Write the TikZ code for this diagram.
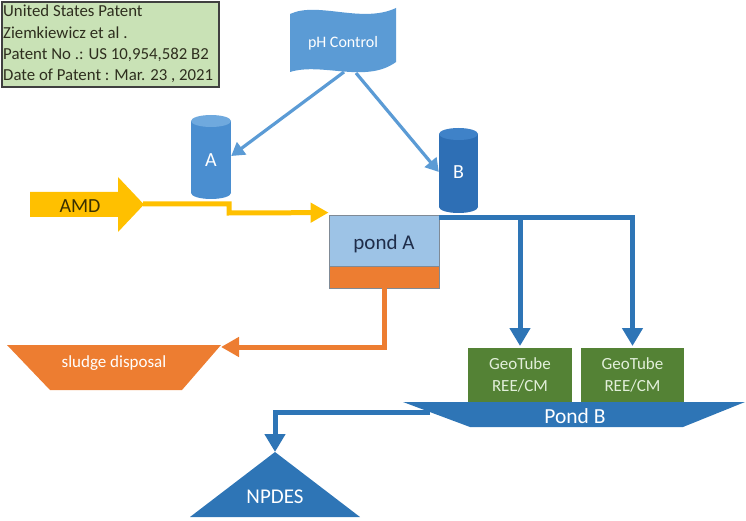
\documentclass[tikz,border=0pt]{standalone}
\usepackage{fontspec}
\setmainfont{Carlito}
\usetikzlibrary{arrows.meta,calc}
\definecolor{midblue}{HTML}{5B9BD5}
\definecolor{cylAbody}{HTML}{4A8ED0}
\definecolor{cylAtop}{HTML}{6FA9DE}
\definecolor{cylBbody}{HTML}{2E6FB5}
\definecolor{cylBtop}{HTML}{3F82C8}
\definecolor{darkblue}{HTML}{2E75B6}
\definecolor{lightblue}{HTML}{9DC3E6}
\definecolor{amdyellow}{HTML}{FFC000}
\definecolor{amdtext}{HTML}{3A3000}
\definecolor{sludgeorange}{HTML}{ED7D31}
\definecolor{geogreen}{HTML}{548235}
\definecolor{patentgreen}{HTML}{C9E2B6}
\definecolor{patenttext}{HTML}{2E2E1E}
\definecolor{geotext}{HTML}{E2EFDA}
\definecolor{pondtext}{HTML}{1F2D4A}
\definecolor{framegray}{HTML}{404040}
\definecolor{pondedge}{HTML}{7F8A96}
\begin{document}
\begin{tikzpicture}[x=1pt,y=-1pt,
  lbl/.style={inner sep=0pt},
  phline/.style={draw=midblue, line width=3.2pt, -{Triangle[length=13pt,width=15pt]}},
  yline/.style={draw=amdyellow, line width=5pt, -{Triangle[length=18pt,width=19pt]}},
  bline/.style={draw=darkblue, line width=5pt, -{Triangle[length=18pt,width=20pt]}},
  oline/.style={draw=sludgeorange, line width=5pt, -{Triangle[length=18pt,width=19pt]}},
  geobox/.style={fill=geogreen, minimum width=103pt, minimum height=55pt, inner sep=0pt, align=center, text=geotext, font=\fontsize{17}{22}\selectfont},
  whitetxt/.style={lbl, text=white},
]
\useasboundingbox (0,0) rectangle (746,521);

% patent box
\node[draw=framegray, line width=1.8pt, fill=patentgreen, anchor=north west,
      minimum width=217pt, minimum height=85pt, inner sep=0pt] (patent) at (0.9,0.9) {};
\begin{scope}[every node/.style={lbl, anchor=west, text=patenttext, font=\fontsize{16.8}{18}\selectfont}]
\node (p1) at (3,11) {United States Patent};
\node (p2) at (3,33) {Ziemkiewicz et al .};
\node (p3) at (3,55) {Patent No .: US 10,954,582 B2};
\node (p4) at (3,76) {Date of Patent : Mar. 23 , 2021};
\end{scope}

% pH control wave
\fill[midblue] (290,14) .. controls (318,1) and (362,24) .. (396,8)
  -- (396,62) .. controls (366,84) and (322,62) .. (290,72) -- cycle;
\node[whitetxt, font=\fontsize{16}{18}\selectfont] (ph) at (343,43) {pH Control};
\coordinate (phL) at (344,72);
\coordinate (phR) at (356,73);

% cylinder A
\fill[cylAbody] (191,121) rectangle (231,193);
\fill[cylAbody] (211,193) ellipse [x radius=20, y radius=6];
\fill[cylAtop] (211,121) ellipse [x radius=20, y radius=6];
\node[whitetxt, font=\fontsize{20}{24}\selectfont, minimum width=40pt, minimum height=84pt] (A) at (211,160) {A};

% cylinder B
\fill[cylBbody] (439,134) rectangle (478,207);
\fill[cylBbody] (458.5,207) ellipse [x radius=19.5, y radius=6];
\fill[cylBtop] (458.5,134) ellipse [x radius=19.5, y radius=6];
\node[whitetxt, font=\fontsize{20}{24}\selectfont, minimum width=39pt, minimum height=85pt] (B) at (458.5,172) {B};

% pH arrows
\draw[phline] (phL) -- (A.east |- 0,156);
\draw[phline] (phR) -- (B.west |- 0,172);

% AMD block arrow
\fill[amdyellow] (30,192) -- (118,192) -- (118,177) -- (144,204.5) -- (118,232)
  -- (118,217) -- (30,217) -- cycle;
\node[lbl, text=amdtext, font=\fontsize{20}{22}\selectfont] (amd) at (80,206) {AMD};
\coordinate (amdtip) at (143,204);

% pond A
\node[fill=lightblue, draw=pondedge, line width=0.8pt, minimum width=110pt, minimum height=51pt,
      inner sep=0pt] (pondA) at (384,240.5) {};
\node[lbl, text=pondtext, font=\fontsize{21}{24}\selectfont] (pondAtxt) at (384,244) {pond A};
\node[fill=sludgeorange, draw=pondedge, line width=0.8pt, minimum width=110pt, minimum height=22pt,
      inner sep=0pt] (pondAs) at (384,277) {};

% yellow feed line
\draw[yline] (amdtip) -- (229,204) -- (229,213) -- ($(pondA.north west)+(0,-2)$);

% GeoTubes
\node[geobox, minimum width=104pt] (G1) at (520,375) {GeoTube\\REE/CM};
\node[geobox] (G2) at (632.5,375) {GeoTube\\REE/CM};

% blue line from pond A
\coordinate (bl) at (439,218);
\draw[bline] (bl) -- (G2.north |- bl) -- (632.5,346);
\draw[bline] (G1.north |- bl) -- (520,346);

% sludge disposal
\fill[sludgeorange] (7,345) -- (221,345) -- (182,390) -- (50,390) -- cycle;
\node[whitetxt, font=\fontsize{17}{19}\selectfont] (sludge) at (114,363) {sludge disposal};
\coordinate (sludgeTR) at (221,347);
\draw[oline] (pondAs.south) -- (pondAs.south |- sludgeTR) -- (sludgeTR);

% pond B
\fill[darkblue] (403,402) -- (745,402) -- (683,427) -- (470,427) -- cycle;
\node[whitetxt, font=\fontsize{21.5}{24}\selectfont] (pondB) at (575,416) {Pond B};
\coordinate (pbL) at (430,412);

% NPDES
\fill[darkblue] (275,452) -- (360,517) -- (190,517) -- cycle;
\node[whitetxt, font=\fontsize{21}{24}\selectfont] (npdes) at (275,497) {NPDES};
\coordinate (npdesTop) at (275,452);
\draw[bline] (pbL) -- (npdesTop |- pbL) -- (npdesTop);
\end{tikzpicture}
\end{document}
